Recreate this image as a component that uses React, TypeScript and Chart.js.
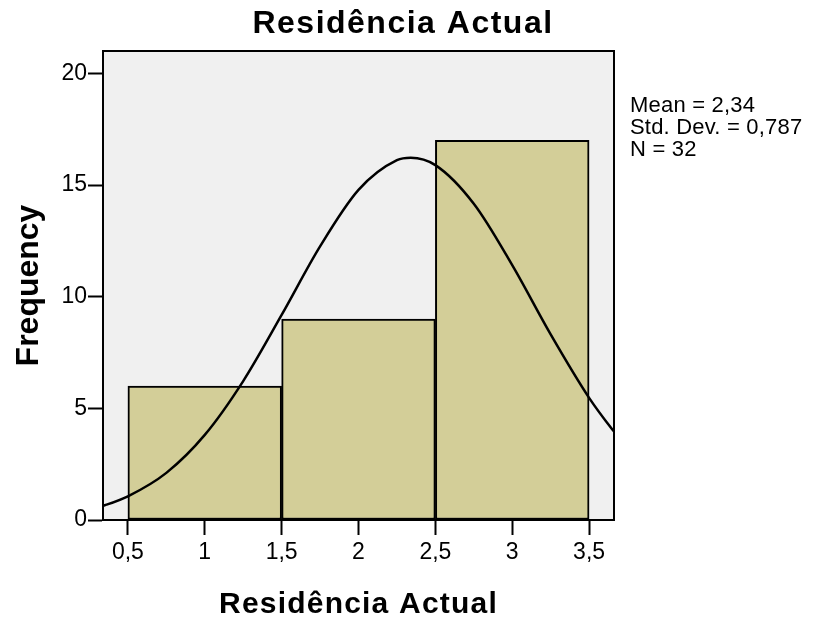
import { useEffect, useRef } from "react";
import { Chart, registerables } from "chart.js";

Chart.register(...registerables);

// Histogram bins (centre of each unit-wide bin) and their counts
const binCenters = [1, 2, 3];
const frequencies = [6, 9, 17];

// Fitted normal curve, sampled along the x axis
const curveX = [0.3, 0.35, 0.5, 0.75, 1, 1.25, 1.5, 1.75, 2, 2.25, 2.34, 2.5, 2.75, 3, 3.25, 3.5, 3.65, 3.7];
const curveY = [0.56, 0.66, 1.06, 2.11, 3.81, 6.22, 9.18, 12.25, 14.78, 16.11, 16.22, 15.89, 14.16, 11.41, 8.31, 5.47, 4.06, 3.64];

const xTicks = [0.5, 1, 1.5, 2, 2.5, 3, 3.5];
const yTicks = [0, 5, 10, 15, 20];

const chartTitle = "Residência Actual";
const xTitle = "Residência Actual";
const yTitle = "Frequency";
const statsLines = ["Mean = 2,34", "Std. Dev. = 0,787", "N = 32"];

const X_MIN = 0.338;
const X_MAX = 3.662;

const FONT = "'Liberation Sans', Arial, Helvetica, sans-serif";
const fmt = (v: number) => String(v).replace(".", ",");

const decorations = {
  id: "decorations",
  beforeDraw(chart: any) {
    const { ctx, chartArea: a } = chart;
    ctx.save();
    ctx.fillStyle = "#f0f0f0";
    ctx.fillRect(a.left, a.top, a.right - a.left, a.bottom - a.top);
    ctx.restore();
  },
  afterDraw(chart: any) {
    const { ctx, chartArea: a } = chart;
    ctx.save();
    // top and right frame lines
    ctx.strokeStyle = "#000";
    ctx.lineWidth = 2;
    ctx.beginPath();
    ctx.moveTo(a.left, a.top);
    ctx.lineTo(a.right, a.top);
    ctx.lineTo(a.right, a.bottom);
    ctx.stroke();

    ctx.fillStyle = "#000";
    ctx.textBaseline = "alphabetic";

    // chart title
    ctx.textAlign = "center";
    ctx.font = `bold 32px ${FONT}`;
    (ctx as any).letterSpacing = "1.5px";
    ctx.fillText(chartTitle, 403, 33);

    // x axis title
    ctx.font = `bold 30px ${FONT}`;
    (ctx as any).letterSpacing = "1.2px";
    ctx.fillText(xTitle, (a.left + a.right) / 2, 613);

    // y axis title
    ctx.save();
    ctx.translate(38, (a.top + a.bottom) / 2);
    ctx.rotate(-Math.PI / 2);
    ctx.font = `bold 32px ${FONT}`;
    (ctx as any).letterSpacing = "0px";
    ctx.fillText(yTitle, 0, 0);
    ctx.restore();

    // summary statistics
    ctx.textAlign = "left";
    ctx.font = `22px ${FONT}`;
    (ctx as any).letterSpacing = "0.2px";
    statsLines.forEach((line, i) => ctx.fillText(line, 630, 112 + i * 22));
    ctx.restore();
  },
};

export default function App() {
  const canvasRef = useRef<HTMLCanvasElement>(null);

  useEffect(() => {
    if (!canvasRef.current) return;
    const chart = new Chart(canvasRef.current, {
      type: "bar",
      data: {
        datasets: [
          {
            type: "line",
            xAxisID: "x",
            data: curveX.map((x, i) => ({ x, y: curveY[i] })),
            borderColor: "#000",
            borderWidth: 2.5,
            pointRadius: 0,
            cubicInterpolationMode: "monotone",
            fill: false,
            order: 0,
          } as any,
          {
            type: "bar",
            xAxisID: "bins",
            data: binCenters.map((x, i) => ({ x, y: frequencies[i] })),
            backgroundColor: "#d3ce98",
            borderColor: "#000",
            borderWidth: 2,
            borderSkipped: false,
            grouped: false,
            barPercentage: 1,
            categoryPercentage: 1,
            order: 1,
          } as any,
        ],
      },
      options: {
        animation: false,
        responsive: true,
        maintainAspectRatio: false,
        layout: { padding: { left: 0, top: 51, right: 202, bottom: 0 } },
        plugins: { legend: { display: false }, tooltip: { enabled: false }, title: { display: false } },
        scales: {
          // hidden axis spanning the same range, with one tick per bin so each bar fills its bin
          bins: {
            type: "linear",
            position: "bottom",
            display: false,
            offset: false,
            min: X_MIN,
            max: X_MAX,
            afterBuildTicks: (s: any) => {
              s.ticks = binCenters.map((value) => ({ value }));
            },
          },
          x: {
            type: "linear",
            position: "bottom",
            offset: false,
            min: X_MIN,
            max: X_MAX,
            afterBuildTicks: (s: any) => {
              s.ticks = xTicks.map((value) => ({ value }));
            },
            afterFit: (s: any) => {
              s.height = 104;
            },
            ticks: {
              color: "#000",
              font: { family: FONT, size: 23 },
              padding: 4,
              maxRotation: 0,
              autoSkip: false,
              callback: (v: any) => fmt(Number(v)),
            },
            grid: {
              offset: false,
              drawOnChartArea: false,
              drawTicks: true,
              tickLength: 15,
              tickColor: "#000",
              tickWidth: 2,
            },
            border: { display: true, color: "#000", width: 2 },
          },
          y: {
            type: "linear",
            min: 0,
            max: 21,
            afterBuildTicks: (s: any) => {
              s.ticks = yTicks.map((value) => ({ value }));
            },
            afterFit: (s: any) => {
              s.width = 103;
            },
            ticks: {
              color: "#000",
              font: { family: FONT, size: 23 },
              padding: 1,
              autoSkip: false,
              callback: (v: any) => fmt(Number(v)),
            },
            grid: { drawOnChartArea: false, drawTicks: true, tickLength: 15, tickColor: "#000", tickWidth: 2 },
            border: { display: true, color: "#000", width: 2 },
          },
        },
      },
      plugins: [decorations],
    });
    return () => chart.destroy();
  }, []);

  return (
    <div style={{ position: "fixed", left: 0, top: 0, width: 816, height: 624, background: "#fff" }}>
      <canvas ref={canvasRef} />
    </div>
  );
}
